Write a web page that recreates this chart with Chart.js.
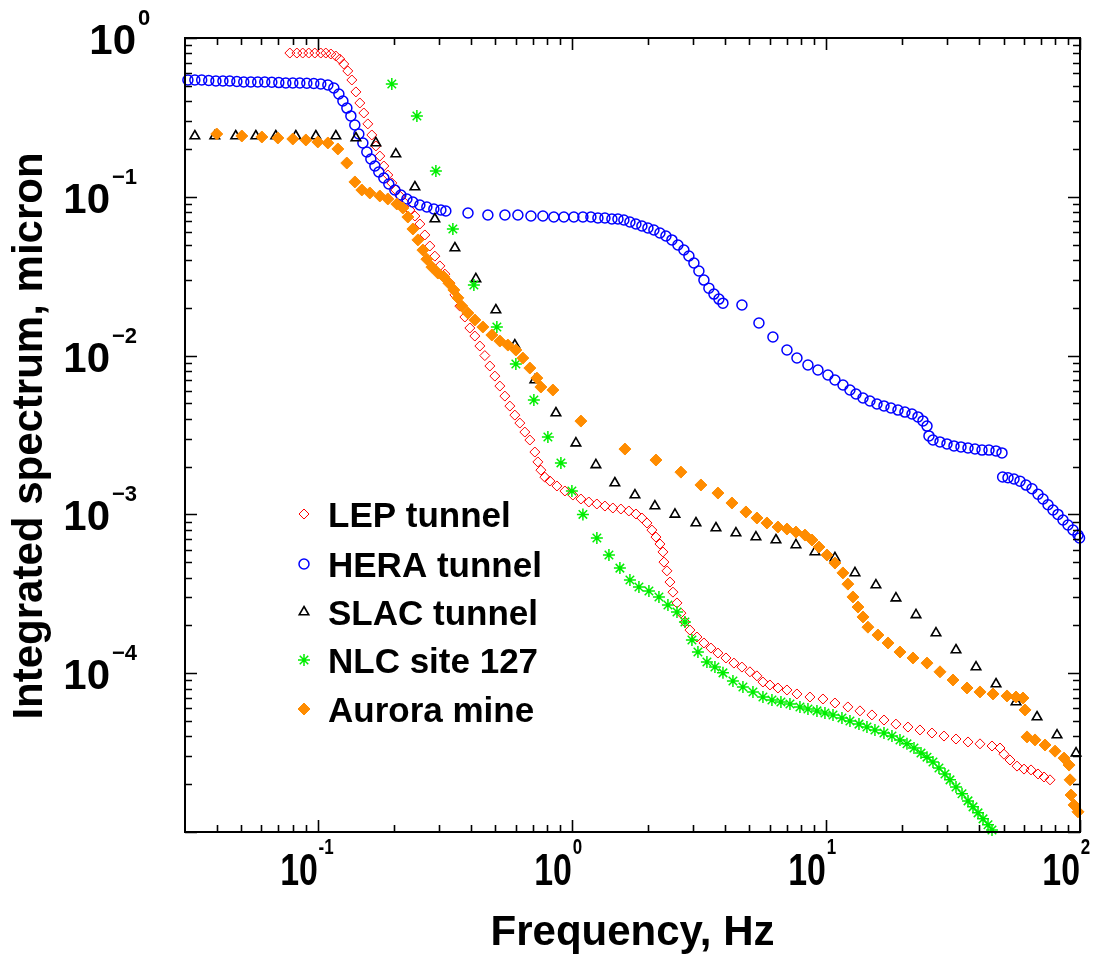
<!DOCTYPE html>
<html><head><meta charset="utf-8">
<script src="https://cdn.jsdelivr.net/npm/chart.js@4.4.1/dist/chart.umd.min.js"></script>
<style>html,body{margin:0;padding:0;background:#fff}#wrap{width:1109px;height:960px}</style>
</head><body><div id="wrap"><canvas id="c" width="1109" height="960"></canvas></div>
<script>
// ---- data (frequency in Hz, integrated spectrum in micron) ----
const lepFreq = [0.0776,0.0827,0.0872,0.0921,0.0973,0.1027,0.1075,0.1125,0.1177,0.1220,0.1265,0.1312,0.1361,0.1412,0.1463,0.1517,0.1573,0.1631,0.1692,0.1754,0.1819,0.1886,0.1955,0.2028,0.2103,0.2201,0.2303,0.2410,0.2521,0.2638,0.2760,0.2888,0.3022,0.3162,0.3309,0.3463,0.3622,0.3790,0.3966,0.4150,0.4342,0.4543,0.4754,0.4975,0.5205,0.5447,0.5699,0.5963,0.6239,0.6529,0.6832,0.7149,0.7346,0.7550,0.7829,0.8193,0.8730,0.9386,1.009,1.085,1.166,1.254,1.349,1.450,1.559,1.676,1.787,1.886,1.974,2.065,2.142,2.221,2.282,2.303,2.367,2.432,2.499,2.592,2.686,2.786,2.915,3.106,3.309,3.526,3.757,4.040,4.343,4.669,5.021,5.350,5.649,6.019,6.472,7.022,7.689,8.650,9.732,10.85,12.20,13.61,15.17,16.92,18.86,21.03,23.45,26.14,29.15,32.50,36.24,40.40,45.04,48.43,50.22,53.03,56.51,60.21,64.15,68.36,72.19,76.21];
const lepAmp = [0.804,0.804,0.804,0.804,0.804,0.804,0.804,0.793,0.770,0.737,0.686,0.620,0.544,0.4575,0.3897,0.337,0.2878,0.2451,0.209,0.1806,0.1563,0.1372,0.1222,0.1104,0.1012,0.0914,0.0826,0.0757,0.0674,0.0575,0.0490,0.0423,0.0367,0.0326,0.0286,0.0241,0.0205,0.0175,0.01492,0.01328,0.01149,0.0100,0.00860,0.00743,0.00643,0.00556,0.00481,0.00422,0.00376,0.00330,0.00294,0.00247,0.00214,0.00190,0.001716,0.001623,0.001510,0.001404,0.001324,0.001250,0.001197,0.001163,0.001129,0.001097,0.001081,0.001051,0.001006,0.000949,0.000883,0.000797,0.000720,0.000651,0.000580,0.000501,0.000441,0.000375,0.000324,0.000277,0.000239,0.000210,0.000187,0.000169,0.000155,0.000144,0.000134,0.0001247,0.0001158,0.0001093,0.000102,0.0000962,0.0000880,0.0000843,0.0000807,0.0000784,0.0000740,0.0000708,0.0000688,0.0000649,0.0000613,0.0000579,0.0000546,0.0000507,0.0000478,0.0000458,0.0000439,0.0000420,0.0000402,0.0000385,0.0000369,0.0000359,0.0000348,0.0000338,0.0000309,0.0000284,0.0000260,0.0000249,0.0000246,0.0000232,0.0000222,0.0000213];

const heraFreq = [0.0308,0.0328,0.0349,0.0372,0.0397,0.0423,0.045,0.048,0.0511,0.0545,0.058,0.0618,0.0659,0.0702,0.0748,0.0797,0.0849,0.0905,0.0964,0.1027,0.1095,0.1156,0.121,0.1255,0.1301,0.1349,0.1398,0.145,0.1504,0.1559,0.1617,0.1677,0.1738,0.1819,0.1903,0.201,0.2122,0.2241,0.2366,0.2521,0.2686,0.2862,0.305,0.319,
 0.390,0.467,0.545,0.613,0.690,0.769,0.849,0.930,1.018,1.105,1.188,1.266,1.349,1.437,1.518,1.602,1.692,1.786,1.886,1.992,2.103,2.221,2.345,2.476,2.614,2.760,2.888,3.022,3.162,3.309,3.462,3.623,3.791,3.931,
 4.670,5.448,6.184,7.024,7.689,8.494,9.300,10.18,10.85,11.67,12.43,13.13,13.99,14.90,15.88,16.92,18.03,19.21,20.46,21.81,23.03,24.09,24.99,25.44,26.38,28.11,29.95,31.91,34.00,36.23,38.61,41.14,43.83,46.70,49.31,
 49.6,52.07,54.99,58.06,61.31,64.73,68.35,71.51,74.82,78.29,81.91,85.71,89.68,93.84,98.2,99.6];
const heraAmp = [0.544,0.544,0.544,0.540,0.536,0.536,0.536,0.532,0.528,0.528,0.528,0.528,0.526,0.524,0.521,0.521,0.521,0.519,0.517,0.513,0.506,0.484,0.444,0.401,0.362,0.323,0.283,0.2485,0.2182,0.1915,0.173,0.1563,0.1433,0.1313,0.1204,0.1104,0.1026,0.0969,0.0927,0.0888,0.0863,0.0838,0.0826,0.0814,
 0.0791,0.0768,0.0768,0.0768,0.0757,0.0757,0.0746,0.0746,0.0746,0.0746,0.0746,0.0735,0.0735,0.0725,0.0725,0.0714,0.0694,0.0674,0.0655,0.0636,0.0618,0.0592,0.0566,0.0535,0.0497,0.0462,0.0424,0.0383,0.0341,0.0299,0.0266,0.0244,0.0227,0.0214,
 0.02083,0.01604,0.01310,0.01084,0.00966,0.00873,0.00811,0.00755,0.00702,0.00653,0.00607,0.00573,0.00541,0.00518,0.00496,0.00482,0.00468,0.00454,0.00441,0.00429,0.00411,0.00388,0.00360,0.00312,0.00294,0.00286,0.00278,0.00270,0.00266,0.00262,0.00258,0.00254,0.00254,0.00251,0.00244,
 0.00172,0.00170,0.00167,0.00162,0.00153,0.00145,0.00134,0.00125,0.00115,0.001066,0.001,0.000922,0.000858,0.000797,0.000742,0.000710];

const slacFreq = [0.0328,0.0393,0.0475,0.0570,0.0683,0.0819,0.0982,0.1177,0.1412,0.1692,0.2028,0.2410,0.2888,0.3463,0.4188,0.5020,0.5963,0.7149,0.8652,1.037,1.243,1.476,1.771,2.122,2.545,3.078,3.690,4.423,5.302,6.356,7.620,9.051,10.85,13.01,15.73,18.86,22.62,27.11,32.50,38.97,46.71,56.00,67.74,81.21,96.48];
const slacAmp = [0.2415,0.2415,0.2415,0.2415,0.2415,0.2415,0.2415,0.2415,0.2346,0.2183,0.1859,0.1153,0.0725,0.0476,0.0304,0.01937,0.01165,0.00702,0.00435,0.00281,0.00205,0.001577,0.001324,0.001129,0.001,0.000883,0.000821,0.000763,0.000720,0.000690,0.000642,0.000580,0.000532,0.000428,0.000359,0.000297,0.000233,0.000179,0.000140,0.0001093,0.0000855,0.0000659,0.0000530,0.0000408,0.0000314];

const nlcFreq = [0.1955,0.2454,0.2915,0.3400,0.4113,0.5066,0.6018,0.7085,0.8045,0.9052,1.0,1.105,1.254,1.399,1.545,1.692,1.836,2.010,2.201,2.388,2.592,2.786,2.968,3.134,3.400,3.656,3.932,4.304,4.712,5.160,5.649,6.129,6.650,7.216,7.900,8.495,9.217,9.910,10.66,11.56,12.43,13.49,14.50,15.59,16.92,18.19,19.56,20.84,22.21,23.66,24.99,26.38,27.85,29.41,30.78,32.50,34.32,36.24,37.92,39.68,41.52,43.44,45.04];
const nlcAmp = [0.513,0.3226,0.1454,0.0627,0.0278,0.01514,0.00885,0.00525,0.00307,0.00211,0.001404,0.001,0.000710,0.000555,0.000459,0.000386,0.000349,0.000329,0.000302,0.000269,0.000243,0.000210,0.000162,0.000136,0.0001175,0.0001093,0.0001005,0.0000893,0.0000818,0.0000762,0.0000708,0.0000678,0.0000659,0.0000640,0.0000613,0.0000595,0.0000579,0.0000562,0.0000546,0.0000523,0.0000500,0.0000478,0.0000458,0.0000439,0.0000420,0.0000402,0.0000380,0.0000359,0.0000338,0.0000314,0.0000296,0.0000276,0.0000253,0.0000232,0.0000213,0.0000192,0.0000174,0.0000157,0.0000144,0.0000132,0.0000121,0.0000111,0.0000103];

const auroraFreq = [0.0400,0.0502,0.0602,0.0696,0.0797,0.0897,0.1000,0.1095,0.1199,0.1300,0.1399,0.1490,0.1602,0.1754,0.1886,0.2046,0.2161,0.2261,0.2367,0.2476,0.2591,0.2686,0.2811,0.2968,0.3134,0.3279,0.3431,0.3558,0.3688,0.3895,0.4150,0.4462,0.4841,0.5205,0.5597,0.6018,0.6411,0.6832,0.7280,0.7550,0.8419,1.085,1.617,2.142,2.686,3.220,3.757,4.265,4.842,5.350,5.858,6.472,7.022,7.620,8.267,8.808,9.386,10.09,10.85,11.66,12.20,12.77,13.37,13.99,14.63,16.02,17.55,19.56,22.01,24.99,28.11,31.63,35.91,40.40,45.45,51.61,56.00,59.66,60.75,61.87,66.52,72.84,79.75,86.53,90.54,91.4,92.2,94.7,98.2];
const auroraAmp = [0.2486,0.2415,0.2380,0.2346,0.2312,0.2280,0.2215,0.2183,0.2001,0.1632,0.1240,0.1104,0.1057,0.1012,0.0969,0.0901,0.0850,0.0746,0.0627,0.0535,0.0462,0.0405,0.0361,0.0331,0.0313,0.0286,0.0259,0.0231,0.0205,0.01854,0.01676,0.01514,0.01348,0.01235,0.01165,0.01084,0.00965,0.00835,0.00722,0.00634,0.00607,0.00387,0.00258,0.00220,0.001846,0.001532,0.001363,0.001180,0.001036,0.000949,0.000883,0.000833,0.000809,0.000774,0.000741,0.000690,0.000623,0.000555,0.000494,0.000428,0.000364,0.000302,0.000261,0.000226,0.000195,0.000174,0.000155,0.000136,0.0001247,0.0001158,0.000102,0.0000906,0.0000807,0.0000762,0.0000740,0.0000719,0.0000708,0.0000698,0.0000587,0.0000397,0.0000380,0.0000353,0.0000323,0.0000292,0.0000264,0.0000213,0.0000171,0.0000148,0.0000134];

const seriesLabels = ['LEP tunnel','HERA tunnel','SLAC tunnel','NLC site 127','Aurora mine'];
const xTickExponents = [-1, 0, 1, 2];
const yTickExponents = [0, -1, -2, -3, -4];
const xTitle = 'Frequency, Hz';
const yTitle = 'Integrated spectrum, micron';

function pts(f, a) { return f.map((v, i) => ({ x: v, y: a[i] })); }

const FONT = '"Liberation Sans", Arial, Helvetica, sans-serif';

function drawMarker(ctx, style, x, y, r, fill, stroke, lw) {
  ctx.save();
  ctx.lineWidth = lw; ctx.strokeStyle = stroke; ctx.fillStyle = fill;
  ctx.beginPath();
  if (style === 'circle') {
    ctx.arc(x, y, r, 0, Math.PI * 2);
  } else if (style === 'rectRot') {
    ctx.moveTo(x, y - r); ctx.lineTo(x + r, y); ctx.lineTo(x, y + r); ctx.lineTo(x - r, y); ctx.closePath();
  } else if (style === 'triangle') {
    const a = r * Math.sin(Math.PI / 3), b = r * 0.5;
    ctx.moveTo(x, y - r); ctx.lineTo(x + a, y + b); ctx.lineTo(x - a, y + b); ctx.closePath();
  } else if (style === 'star') {
    ctx.moveTo(x - r, y); ctx.lineTo(x + r, y); ctx.moveTo(x, y - r); ctx.lineTo(x, y + r);
    const d = r * Math.SQRT1_2;
    ctx.moveTo(x - d, y - d); ctx.lineTo(x + d, y + d); ctx.moveTo(x - d, y + d); ctx.lineTo(x + d, y - d);
  }
  if (fill && fill !== 'transparent' && style !== 'star') ctx.fill();
  ctx.stroke();
  ctx.restore();
}

const decorPlugin = {
  id: 'decor',
  afterDatasetsDraw(chart) {
    const { ctx, chartArea: ca, scales: { x, y } } = chart;
    ctx.save();
    ctx.strokeStyle = '#000';
    ctx.lineWidth = 2;
    ctx.strokeRect(ca.left, ca.top, ca.right - ca.left, ca.bottom - ca.top);
    ctx.lineWidth = 1.6;
    ctx.beginPath();
    for (let e = -2; e <= 2; e++) for (let m = 1; m <= 9; m++) {
      const v = m * Math.pow(10, e);
      if (v < x.min * 1.001 || v > x.max * 1.001) continue;
      const p = Math.round(x.getPixelForValue(v)) + 0.5;
      const len = m === 1 ? 12 : 7;
      ctx.moveTo(p, ca.bottom); ctx.lineTo(p, ca.bottom - len);
      ctx.moveTo(p, ca.top); ctx.lineTo(p, ca.top + len);
    }
    for (let e = -5; e <= 0; e++) for (let m = 1; m <= 9; m++) {
      const v = m * Math.pow(10, e);
      if (v < y.min * 0.999 || v > y.max * 1.001) continue;
      const p = Math.round(y.getPixelForValue(v)) + 0.5;
      const len = m === 1 ? 12 : 7;
      ctx.moveTo(ca.left, p); ctx.lineTo(ca.left + len, p);
      ctx.moveTo(ca.right, p); ctx.lineTo(ca.right - len, p);
    }
    ctx.stroke();

    ctx.fillStyle = '#000';
    // x tick labels (condensed)
    xTickExponents.forEach(e => {
      const px = x.getPixelForValue(Math.pow(10, e));
      ctx.save();
      ctx.translate(px, 885);
      ctx.scale(0.77, 1);
      ctx.font = 'bold 44px ' + FONT;
      ctx.textAlign = 'right'; ctx.textBaseline = 'alphabetic';
      ctx.fillText('10', 0, 0);
      ctx.font = 'bold 22px ' + FONT;
      ctx.textAlign = 'left';
      ctx.fillText(e < 0 ? '-' + (-e) : String(e), 1, -31);
      ctx.restore();
    });
    // y tick labels
    yTickExponents.forEach(e => {
      const py = y.getPixelForValue(Math.pow(10, e));
      const right = e === 0 ? 136 : 110;
      ctx.font = 'bold 42px ' + FONT;
      ctx.textAlign = 'right'; ctx.textBaseline = 'alphabetic';
      ctx.fillText('10', right, py + 16);
      ctx.font = 'bold 22px ' + FONT;
      ctx.textAlign = 'left';
      ctx.fillText(e < 0 ? '\u2212' + (-e) : String(e), right + 2, py - 13);
    });
    // axis titles
    ctx.font = 'bold 42px ' + FONT;
    ctx.textAlign = 'center'; ctx.textBaseline = 'alphabetic';
    ctx.fillText(xTitle, (ca.left + ca.right) / 2, 945);
    ctx.save();
    ctx.translate(42, 436);
    ctx.rotate(-Math.PI / 2);
    ctx.fillText(yTitle, 0, 0);
    ctx.restore();

    // legend
    const rows = [527, 577, 625, 673, 722];
    chart.data.datasets.forEach((ds, i) => {
      const by = rows[i];
      drawMarker(ctx, ds.pointStyle, 304, by - 13, ds.pointRadius, ds.pointBackgroundColor, ds.pointBorderColor, ds.pointBorderWidth);
      ctx.fillStyle = '#000';
      ctx.font = 'bold 35px ' + FONT;
      ctx.textAlign = 'left';
      ctx.fillText(ds.label, 328, by);
    });
    ctx.restore();
  }
};

const datasets = [
  { label: seriesLabels[0], data: pts(lepFreq, lepAmp), pointStyle: 'rectRot', pointRadius: 5, pointBorderWidth: 1, pointBorderColor: '#ff0000', pointBackgroundColor: 'transparent', order: 5 },
  { label: seriesLabels[1], data: pts(heraFreq, heraAmp), pointStyle: 'circle', pointRadius: 5, pointBorderWidth: 1.5, pointBorderColor: '#0000ff', pointBackgroundColor: 'transparent', order: 4 },
  { label: seriesLabels[2], data: pts(slacFreq, slacAmp), pointStyle: 'triangle', pointRadius: 5.5, pointBorderWidth: 1.6, pointBorderColor: '#000000', pointBackgroundColor: 'transparent', order: 3 },
  { label: seriesLabels[3], data: pts(nlcFreq, nlcAmp), pointStyle: 'star', pointRadius: 6, pointBorderWidth: 1.5, pointBorderColor: '#00ee00', pointBackgroundColor: '#00ee00', order: 2 },
  { label: seriesLabels[4], data: pts(auroraFreq, auroraAmp), pointStyle: 'rectRot', pointRadius: 6, pointBorderWidth: 1, pointBorderColor: '#ff8c00', pointBackgroundColor: '#ff8c00', order: 1 }
].map(d => Object.assign({ showLine: false, clip: false, pointHoverRadius: d.pointRadius }, d));

new Chart(document.getElementById('c'), {
  type: 'scatter',
  data: { datasets },
  options: {
    responsive: false,
    animation: false,
    devicePixelRatio: 1,
    layout: { padding: { left: 185, right: 29, top: 38, bottom: 128 } },
    plugins: { legend: { display: false }, tooltip: { enabled: false } },
    scales: {
      x: { type: 'logarithmic', min: 0.03, max: 100, display: false },
      y: { type: 'logarithmic', min: 1e-5, max: 1, display: false }
    }
  },
  plugins: [decorPlugin]
});
</script>
</body></html>
